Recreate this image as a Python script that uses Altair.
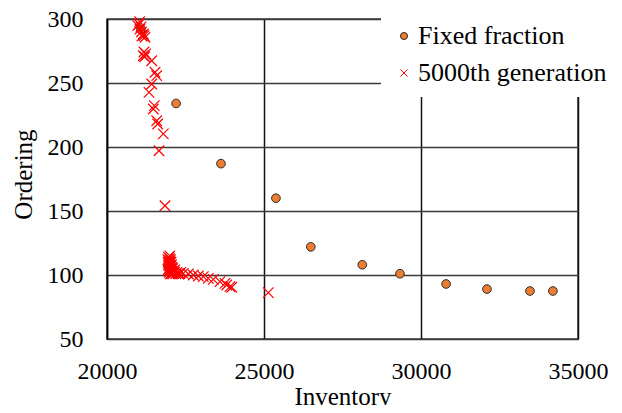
import altair as alt
import pandas as pd

# Fixed fraction series
ff_inventory = [21080, 22200, 23630, 25380, 26490, 28130, 29330, 30800, 32100, 33470, 34200]
ff_ordering = [292, 234, 187, 160, 122, 108, 101, 93, 89, 87.5, 87.5]

# 5000th generation series
gen_inventory = [
    20978, 21019, 21051, 21083, 21040, 21100, 21156, 21210, 21115, 21180,
    21233, 21156, 21178, 21200, 21424, 21529, 21583, 21424, 21338, 21507,
    21475, 21583, 21615, 21793, 21656, 21847,
    21960, 21990, 22020, 21970, 22000, 22040, 21960, 21990, 22030, 22070,
    21970, 22000, 22040, 22080, 22120, 21980, 22020, 22060, 22100, 22150,
    22190, 22230, 22270, 22310, 22350, 22000, 22050, 22090, 22010, 21950,
    21940, 21975, 22015, 22055, 22110, 22160, 21945, 22005,
    22430, 22589, 22749, 22908, 23067, 23226, 23386, 23599, 23758, 23812,
    23917, 23972, 25137,
]
gen_ordering = [
    294.8, 296.1, 292.2, 293.8, 298, 290, 288.3, 285.7, 286.7, 287,
    272.7, 271.3, 274.2, 270.5, 267.4, 258.4, 255.7, 249.2, 242.7, 232.3,
    229.7, 220.5, 218, 210.2, 197.1, 154.1,
    114, 113, 112, 111, 110, 110, 108, 107, 107, 106,
    105, 104, 104, 103, 103, 102, 101, 101, 101, 102,
    101, 102, 101, 101, 102, 115, 108, 105, 103, 104,
    112, 109, 106, 105, 102, 104, 110, 111,
    101.3, 100.8, 100, 99.2, 98.7, 97.4, 96.6, 94.8, 93.5, 92.2,
    90.9, 90.4, 86.2,
]

series_names = ["Fixed fraction", "5000th generation"]
x_ticks = [20000, 25000, 30000, 35000]
y_ticks = [50, 100, 150, 200, 250, 300]

df = pd.concat([
    pd.DataFrame({"Inventory": ff_inventory, "Ordering": ff_ordering,
                  "series": series_names[0]}),
    pd.DataFrame({"Inventory": gen_inventory, "Ordering": gen_ordering,
                  "series": series_names[1]}),
], ignore_index=True)

FONT = "Liberation Serif"
cross = "M-1,-1L1,1M-1,1L1,-1"

base = alt.Chart(df).encode(
    x=alt.X("Inventory:Q",
            scale=alt.Scale(domain=[20000, 35000], nice=False, zero=False),
            axis=alt.Axis(values=x_ticks, format="d", grid=True, gridColor="#111111",
                          gridWidth=1.5, domain=False, ticks=False,
                          labelFlush=False, labelOverlap=False,
                          labelPadding=20, title="Inventory",
                          titleY=65, titleBaseline="alphabetic")),
    y=alt.Y("Ordering:Q",
            scale=alt.Scale(domain=[50, 300], nice=False, zero=False),
            axis=alt.Axis(values=y_ticks, grid=True, gridColor="#3a3a3a",
                          gridWidth=1.5, domain=True, domainColor="#000000",
                          domainWidth=1.5, ticks=False, labelPadding=24,
                          labelFlush=False, labelOverlap=False,
                          title="Ordering", titleAngle=270, titleX=-76, titleY=155,
                          titleBaseline="alphabetic", titleAlign="center")),
    fill=alt.Fill("series:N", title=None,
                  scale=alt.Scale(domain=series_names, range=["#ED7D31", "transparent"])),
    stroke=alt.Stroke("series:N", title=None,
                      scale=alt.Scale(domain=series_names, range=["#2b2b2b", "#FF0000"])),
    shape=alt.Shape("series:N", title=None,
                    scale=alt.Scale(domain=series_names, range=["circle", cross])),
)

ff_layer = base.transform_filter(
    alt.datum.series == series_names[0]
).mark_point(size=75, strokeWidth=1, opacity=1)

gen_layer = base.transform_filter(
    alt.datum.series == series_names[1]
).mark_point(size=110, strokeWidth=1.2, opacity=1)

chart = alt.layer(ff_layer, gen_layer).properties(
    width=471,
    height=320,
    autosize=alt.AutoSizeParams(type="none"),
    padding={"left": 99, "top": 11, "right": 36, "bottom": 66},
    background="white",
).configure_view(
    stroke="#3a3a3a",
    strokeWidth=1.5,
).configure_axis(
    labelFont=FONT,
    labelFontSize=24,
    labelColor="#000000",
    titleFont=FONT,
    titleFontSize=25,
    titleFontWeight="normal",
    titleColor="#000000",
).configure_legend(
    orient="none",
    legendX=274,
    legendY=-6,
    fillColor="white",
    padding=10,
    labelFont=FONT,
    labelFontSize=26,
    labelColor="#000000",
    labelLimit=400,
    labelOffset=1,
    symbolSize=50,
    symbolOffset=0,
    symbolStrokeWidth=1,
    rowPadding=11,
    strokeColor="white",
)

chart.save("out.html", embed_options={"renderer": "svg", "actions": False})
